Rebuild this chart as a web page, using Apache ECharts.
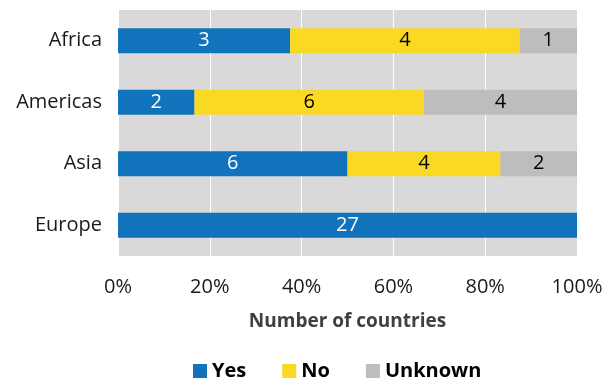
<!DOCTYPE html>
<html>
<head>
<meta charset="utf-8">
<script src="https://cdn.jsdelivr.net/npm/echarts@6/dist/echarts.min.js"></script>
<style>
  html, body { margin: 0; padding: 0; background: #fff; }
  #chart { width: 607px; height: 380px; }
</style>
</head>
<body>
<div id="chart"></div>
<script>
const regions = ['Africa', 'Americas', 'Asia', 'Europe'];
const yesCounts = [3, 2, 6, 27];
const noCounts = [4, 6, 4, 0];
const unknownCounts = [1, 4, 2, 0];
const xTicks = [0, 20, 40, 60, 80, 100];

const font = '"Open Sans", "Liberation Sans", sans-serif';
const totals = regions.map((r, i) => yesCounts[i] + noCounts[i] + unknownCounts[i]);

function toSeries(name, counts, color, labelColor) {
  return {
    name: name,
    type: 'bar',
    stack: 'all',
    barWidth: 25,
    itemStyle: { color: color },
    label: {
      show: true,
      position: 'inside',
      color: labelColor,
      fontFamily: font,
      fontSize: 20,
      formatter: (p) => (counts[p.dataIndex] ? String(counts[p.dataIndex]) : ''),
    },
    data: counts.map((c, i) => (c / totals[i]) * 100),
  };
}

const chart = echarts.init(document.getElementById('chart'));
chart.setOption({
  animation: false,
  backgroundColor: '#fff',
  grid: {
    left: 118, right: 30, top: 10, bottom: 124,
    show: true, backgroundColor: '#d9d9d9', borderWidth: 0,
  },
  legend: {
    left: 188,
    top: 356,
    itemWidth: 14,
    itemHeight: 14,
    itemGap: 36,
    icon: 'rect',
    textStyle: { fontFamily: font, fontSize: 20, fontWeight: 'bold', color: '#000' },
    data: ['Yes', 'No', 'Unknown'],
  },
  xAxis: {
    type: 'value',
    min: xTicks[0],
    max: xTicks[xTicks.length - 1],
    interval: 20,
    name: 'Number of countries',
    nameLocation: 'middle',
    nameGap: 56,
    nameTextStyle: { fontFamily: font, fontSize: 19, fontWeight: 'bold', color: '#404040' },
    axisLine: { show: false },
    axisTick: { show: false },
    axisLabel: {
      margin: 21,
      fontFamily: font,
      fontSize: 20,
      color: '#1a1a1a',
      formatter: '{value}%',
    },
    splitLine: { show: true, lineStyle: { color: '#ffffff', width: 1 } },
  },
  yAxis: {
    type: 'category',
    inverse: true,
    data: regions,
    axisLine: { show: false },
    axisTick: { show: false },
    axisLabel: { margin: 16, fontFamily: font, fontSize: 20, color: '#1a1a1a' },
  },
  series: [
    toSeries('Yes', yesCounts, '#1173bb', '#ffffff'),
    toSeries('No', noCounts, '#fad924', '#000000'),
    toSeries('Unknown', unknownCounts, '#bdbdbd', '#000000'),
  ],
});
</script>
</body>
</html>
